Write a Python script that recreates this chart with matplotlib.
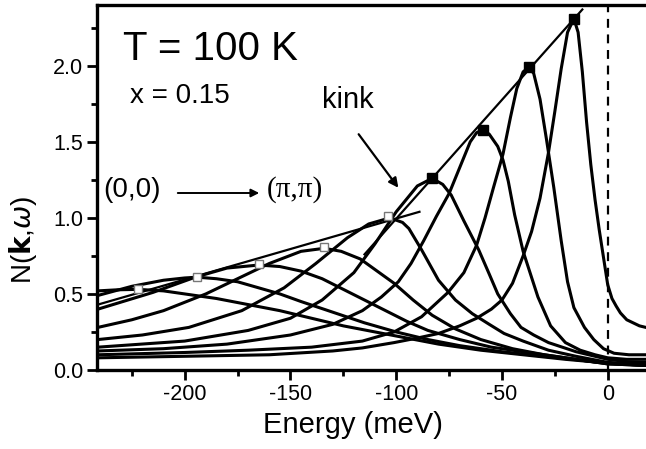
import numpy as np
import matplotlib.pyplot as plt
from matplotlib.ticker import MultipleLocator

plt.rcParams['font.family'] = ['Liberation Sans', 'DejaVu Sans']

# spectral curves N(k, w), one per k point
c1_e = [-241, -232, -222, -210, -200, -185, -170, -155, -140, -125, -110, -95, -80, -60, -40, -20, 0, 18]
c1_n = [0.52, 0.527, 0.53, 0.52, 0.50, 0.47, 0.43, 0.39, 0.34, 0.29, 0.25, 0.21, 0.17, 0.13, 0.10, 0.07, 0.045, 0.03]

c2_e = [-241, -225, -210, -200, -194, -185, -175, -165, -155, -145, -130, -115, -100, -85, -70, -50, -30, -10, 0, 18]
c2_n = [0.49, 0.55, 0.59, 0.605, 0.61, 0.60, 0.58, 0.54, 0.50, 0.45, 0.38, 0.31, 0.25, 0.20, 0.16, 0.12, 0.09, 0.06, 0.045, 0.03]

c3_e = [-241, -215, -195, -180, -165, -155, -145, -135, -125, -115, -105, -95, -85, -70, -55, -40, -25, -10, 0, 18]
c3_n = [0.40, 0.51, 0.61, 0.67, 0.69, 0.68, 0.65, 0.60, 0.53, 0.46, 0.39, 0.32, 0.26, 0.20, 0.15, 0.12, 0.09, 0.06, 0.04, 0.03]

c4_e = [-241, -225, -210, -190, -175, -160, -145, -134, -126, -117, -108, -101, -92, -83, -72, -60, -45, -30, -15, 0, 18]
c4_n = [0.28, 0.33, 0.39, 0.50, 0.60, 0.70, 0.78, 0.80, 0.78, 0.73, 0.64, 0.57, 0.46, 0.36, 0.27, 0.20, 0.14, 0.10, 0.07, 0.04, 0.03]

c5_e = [-241, -220, -198, -173, -153, -138, -123, -113, -103, -97, -94, -88, -80, -72, -64, -56, -49, -40, -28, -15, -6, 0, 18]
c5_n = [0.20, 0.23, 0.28, 0.39, 0.54, 0.70, 0.87, 0.96, 1.0, 0.97, 0.93, 0.79, 0.59, 0.46, 0.37, 0.30, 0.24, 0.19, 0.13, 0.09, 0.066, 0.05, 0.035]

c6_e = [-241, -200, -170, -150, -135, -120, -110, -100, -90, -83, -78, -74, -68, -61, -56, -52, -46, -41, -35, -28, -15, -6, 0, 9, 18]
c6_n = [0.15, 0.19, 0.26, 0.34, 0.46, 0.64, 0.83, 1.04, 1.21, 1.26, 1.22, 1.15, 0.98, 0.79, 0.63, 0.50, 0.37, 0.28, 0.23, 0.18, 0.12, 0.09, 0.07, 0.055, 0.05]

c7_e = [-241, -210, -180, -150, -130, -116, -107, -99, -93, -87, -81, -75, -70, -65, -62, -59, -56, -52, -49.5, -47, -44, -40, -33, -27, -20, -13, -6, 0, 9, 18]
c7_n = [0.125, 0.14, 0.17, 0.23, 0.30, 0.39, 0.48, 0.58, 0.70, 0.85, 1.01, 1.16, 1.33, 1.50, 1.56, 1.58, 1.55, 1.47, 1.38, 1.24, 1.02, 0.78, 0.48, 0.29, 0.18, 0.13, 0.10, 0.08, 0.07, 0.07]

c8_e = [-241, -200, -170, -140, -116, -101, -88, -75.5, -68, -62, -58, -54, -49.5, -46, -43, -40, -37.3, -35, -32, -29, -25.5, -22, -19, -16, -11, -6.6, -2, 3, 10, 18]
c8_n = [0.10, 0.115, 0.13, 0.15, 0.19, 0.25, 0.35, 0.51, 0.64, 0.82, 1.0, 1.2, 1.42, 1.66, 1.85, 1.96, 1.99, 1.95, 1.78, 1.52, 1.2, 0.85, 0.58, 0.41, 0.28, 0.20, 0.14, 0.11, 0.10, 0.10]

c9_e = [-241, -200, -160, -130, -116, -101, -90, -80, -70, -62, -55, -50, -45, -40, -36, -32, -28, -25, -22, -19, -16, -14, -12, -10, -8, -6, -4, -2, 0, 2, 4, 6, 9, 12, 15, 18]
c9_n = [0.08, 0.09, 0.10, 0.125, 0.145, 0.18, 0.21, 0.24, 0.29, 0.34, 0.40, 0.46, 0.57, 0.75, 0.91, 1.13, 1.43, 1.70, 1.98, 2.22, 2.31, 2.22, 1.96, 1.63, 1.35, 1.12, 0.92, 0.74, 0.56, 0.47, 0.42, 0.375, 0.33, 0.31, 0.29, 0.28]

# peak positions (open: above kink energy, filled: below)
open_e = [-222, -194, -165, -134, -104]
open_n = [0.53, 0.61, 0.70, 0.81, 1.01]
filled_e = [-83, -59, -37.3, -16]
filled_n = [1.26, 1.58, 1.99, 2.31]

# straight guide lines through the peaks
lineA_e = [-241, -89]
lineA_n = [0.43, 1.04]
lineB_e = [-115, -12]
lineB_n = [0.76, 2.37]

curves = [(c1_e, c1_n), (c2_e, c2_n), (c3_e, c3_n), (c4_e, c4_n), (c5_e, c5_n),
          (c6_e, c6_n), (c7_e, c7_n), (c8_e, c8_n), (c9_e, c9_n)]

fig = plt.figure(figsize=(6.46, 4.49), dpi=100)
ax = fig.add_axes([0.150, 0.176, 0.851, 0.813])

for e, n in curves:
    ax.plot(e, n, color='black', linewidth=2.2, solid_joinstyle='round')

ax.plot(lineA_e, lineA_n, color='black', linewidth=1.6)
ax.plot(lineB_e, lineB_n, color='black', linewidth=1.6)

ax.plot(open_e, open_n, linestyle='none', marker='s', markersize=6,
        markerfacecolor='white', markeredgecolor='#777777', markeredgewidth=1.0)
ax.plot(filled_e, filled_n, linestyle='none', marker='s', markersize=7.5,
        markerfacecolor='black', markeredgecolor='black')

ax.axvline(0, color='black', linewidth=1.6, linestyle=(0, (4, 3)))

ax.set_xlim(-241.5, 18.4)
ax.set_ylim(0, 2.40)

ax.xaxis.set_minor_locator(MultipleLocator(25))
ax.yaxis.set_minor_locator(MultipleLocator(0.25))
ax.set_xticks([-200, -150, -100, -50, 0])
ax.set_xticklabels(['-200', '-150', '-100', '-50', '0'])
ax.set_yticks([0.0, 0.5, 1.0, 1.5, 2.0])
ax.set_yticklabels(['0.0', '0.5', '1.0', '1.5', '2.0'])

ax.tick_params(which='major', direction='out', length=7, width=2.0, labelsize=15.5, pad=3)
ax.tick_params(which='minor', direction='out', length=4, width=2.0)
ax.tick_params(top=False, right=False)

for side in ['left', 'bottom', 'top']:
    ax.spines[side].set_linewidth(2.4)
ax.spines['right'].set_visible(False)

fig.text(0.190, 0.866, 'T = 100 K', fontsize=29, va='baseline')
fig.text(0.201, 0.771, 'x = 0.15', fontsize=20, va='baseline')
fig.text(0.498, 0.759, 'kink', fontsize=21, va='baseline')
fig.text(0.160, 0.561, '(0,0)', fontsize=20, va='baseline')
fig.text(0.413, 0.561, '(π,π)', fontsize=21, va='baseline',
         family=['Liberation Serif', 'DejaVu Serif'])

ax.annotate('', xy=(262 / 646, 1 - 193 / 449), xytext=(175 / 646, 1 - 193 / 449),
            xycoords='figure fraction', textcoords='figure fraction',
            arrowprops=dict(arrowstyle='-|>', color='black', lw=1.4, mutation_scale=12))
ax.annotate('', xy=(400 / 646, 1 - 190 / 449), xytext=(357 / 646, 1 - 132 / 449),
            xycoords='figure fraction', textcoords='figure fraction',
            arrowprops=dict(arrowstyle='-|>', color='black', lw=1.6, mutation_scale=14))

fig.text(0.547, 0.036, 'Energy (meV)', fontsize=21, ha='center', va='baseline')
fig.text(0.035, 0.465, r'N($\mathbf{k}$,$\omega$)', fontsize=20, rotation=90,
         ha='center', va='center')

fig.savefig('out.png', dpi=100)
